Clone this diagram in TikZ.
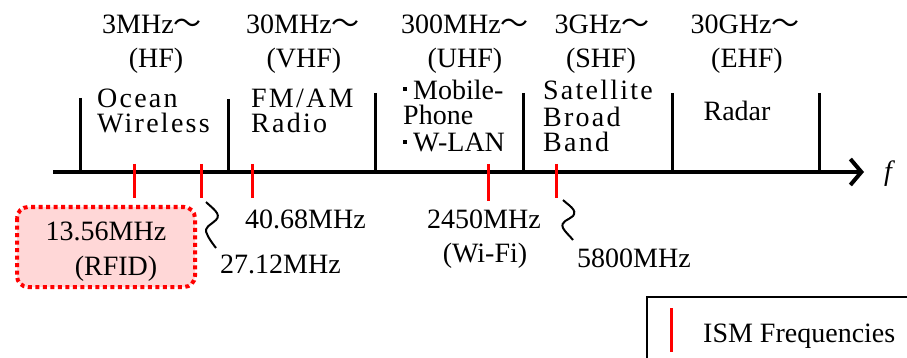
\documentclass[tikz,border=0pt]{standalone}
\usepackage{fontspec}
\setmainfont{Liberation Serif}
\newfontfamily\cjk{Noto Sans CJK JP}
\newfontfamily\wide[LetterSpace=8]{Liberation Serif}
\usetikzlibrary{arrows.meta}
\definecolor{rfidpink}{RGB}{255,215,215}

\begin{document}
\begin{tikzpicture}[x=1pt,y=-1pt,inner sep=0pt,
    font=\fontsize{28}{30}\selectfont,
    lbl/.style={anchor=base,text height=19pt,text depth=5pt},
    lblw/.style={anchor=base west,text height=19pt,text depth=5pt},
    band/.style={lblw,font=\fontsize{28}{30}\wide},
    ism/.style={red,line width=3pt},
    squig/.style={line width=2pt}]
  \useasboundingbox (0,0) rectangle (907,358);

  % frequency axis
  \draw[line width=4pt,-{Straight Barb[length=11pt,width=26pt,line width=4pt]}] (53,172) -- (864,172);
  \node[lblw] (f) at (884,181) {\textit{f}};

  % band borders
  \foreach \x/\t in {80/98,228/99,375/93,523/93,672/93,819/93}
    \draw[line width=3pt] (\x,\t) -- (\x,172);

  % ISM marks
  \foreach \x/\b in {134/198,201/198,252/198,488/201,556/198}
    \draw[ism] (\x,164) -- (\x,\b);

  % band names
  \node[lbl] (hf)   at (152,34) {3MHz{\cjk 〜}};
  \node[lbl] (hfn)  at (156,68) {(HF)};
  \node[lbl] (vhf)  at (303,34) {30MHz{\cjk 〜}};
  \node[lbl] (vhfn) at (304,68) {(VHF)};
  \node[lbl] (uhf)  at (465,34) {300MHz{\cjk 〜}};
  \node[lbl] (uhfn) at (465,68) {(UHF)};
  \node[lbl] (shf)  at (602,34) {3GHz{\cjk 〜}};
  \node[lbl] (shfn) at (601,68) {(SHF)};
  \node[lbl] (ehf)  at (745,34) {30GHz{\cjk 〜}};
  \node[lbl] (ehfn) at (747,68) {(EHF)};

  % uses
  \node[band] (ocean) at (97,108) {Ocean};
  \node[band] (wirel) at (97,133) {Wireless};
  \node[band] (fmam)  at (251,108) {FM/AM};
  \node[band] (radio) at (251,133) {Radio};
  \fill (403,87) rectangle (407,91);
  \node[lblw] (mob)   at (413,100) {Mobile-};
  \node[lblw] (phone) at (403,125) {Phone};
  \fill (403,140) rectangle (407,144);
  \node[lblw] (wlan)  at (413,152) {W-LAN};
  \node[band] (sat)   at (543,100) {Satellite};
  \node[band] (broad) at (543,127) {Broad};
  \node[band] (bband) at (543,152) {Band};
  \node[lbl]  (radar) at (737,121) {Radar};

  % ISM frequencies
  \draw[red,line width=4pt,dash pattern=on 4pt off 3.5pt,fill=rfidpink,rounded corners=11pt]
    (17,207) rectangle (195,287);
  \node[lbl] (rfid)  at (106,240) {13.56MHz};
  \node[lbl] (rfidn) at (116,275) {(RFID)};
  \draw[squig] (206,202) .. controls (212,208) and (222,214) .. (216,220)
    .. controls (211,225) and (203,227) .. (207,234) .. controls (209,239) and (213,244) .. (216,248);
  \node[lblw] (f27) at (220,273) {27.12MHz};
  \node[lblw] (f40) at (245,228) {40.68MHz};
  \node[lbl] (f2450) at (484,228) {2450MHz};
  \node[lbl] (wifi)  at (485,262) {(Wi-Fi)};
  \draw[squig] (563,200) .. controls (568,205) and (578,210) .. (573,216)
    .. controls (569,220) and (560,221) .. (563,228) .. controls (565,232) and (570,236) .. (573,240);
  \node[lblw] (f5800) at (577,267) {5800MHz};

  % legend
  \draw[line width=1.2pt] (647,297) rectangle (920,370);
  \draw[ism] (671,308) -- (671,352);
  \node[lblw] (key) at (703,342) {ISM Frequencies};
\end{tikzpicture}
\end{document}
